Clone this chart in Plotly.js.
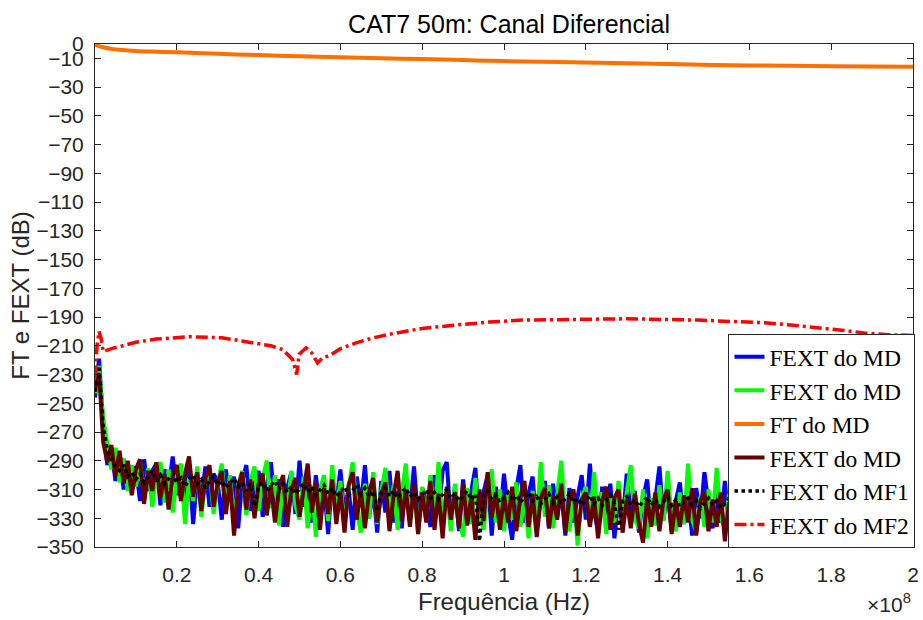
<!DOCTYPE html>
<html>
<head>
<meta charset="utf-8">
<script src="https://cdn.plot.ly/plotly-3.0.1.min.js"></script>
<style>html,body{margin:0;padding:0;background:#fff;}#chart{width:923px;height:620px;}</style>
</head>
<body>
<div id="chart"></div>
<script>
// Frequency grid of the noisy FEXT curves, in MHz
const freqMHz = [0,1,2,3,4,5,6,7,8,9,10,11,12,13,14,15,16,17,18,19,20,21,22,23,24,25,26,27,28,29,30,31,32,33,34,35,36,37,38,39,40,41,42,43,44,45,46,47,48,49,50,51,52,53,54,55,56,57,58,59,60,61,62,63,64,65,66,67,68,69,70,71,72,73,74,75,76,77,78,79,80,81,82,83,84,85,86,87,88,89,90,91,92,93,94,95,96,97,98,99,100,101,102,103,104,105,106,107,108,109,110,111,112,113,114,115,116,117,118,119,120,121,122,123,124,125,126,127,128,129,130,131,132,133,134,135,136,137,138,139,140,141,142,143,144,145,146,147,148,149,150,151,152,153,154,155,156];

const fextMD_blue = [-246,-219,-266,-293,-282,-304,-285,-310,-291,-306,
-294,-318,-289,-311,-297,-292,-321,-296,-309,-287,
-314,-298,-327,-293,-334,-300,-316,-294,-322,-299,
-305,-331,-296,-318,-301,-337,-304,-293,-325,-306,
-297,-329,-308,-291,-320,-303,-336,-309,-298,-327,
-290,-322,-305,-333,-300,-324,-308,-341,-302,-319,
-296,-328,-309,-338,-301,-321,-293,-330,-310,-340,
-304,-326,-297,-333,-311,-337,-302,-324,-294,-331,
-309,-318,-336,-300,-327,-297,-291,-332,-308,-339,
-303,-328,-311,-295,-335,-312,-300,-342,-308,-330,
-299,-327,-345,-310,-293,-333,-313,-301,-338,-315,
-304,-337,-306,-329,-311,-342,-309,-333,-315,-300,
-331,-292,-326,-338,-308,-330,-306,-344,-314,-333,
-299,-328,-311,-340,-316,-303,-335,-317,-294,-331,
-310,-339,-318,-305,-334,-315,-342,-309,-330,-298,
-320,-337,-312,-333,-304,-336,-318];

const fextMD_green = [-243,-224,-260,-277,-296,-281,-305,-288,-311,-293,
-308,-290,-316,-295,-322,-298,-291,-319,-296,-326,
-301,-292,-334,-302,-318,-294,-329,-303,-296,-327,
-306,-292,-324,-300,-333,-307,-297,-328,-304,-294,
-325,-302,-290,-323,-300,-335,-305,-327,-297,-321,
-331,-301,-337,-307,-343,-310,-300,-332,-293,-326,
-304,-336,-309,-291,-325,-340,-306,-330,-298,-334,
-311,-295,-331,-307,-338,-312,-292,-333,-310,-341,
-308,-332,-300,-329,-291,-336,-311,-339,-306,-330,
-343,-309,-334,-302,-328,-338,-312,-296,-333,-310,
-339,-313,-331,-305,-336,-315,-344,-311,-333,-291,
-329,-307,-337,-314,-290,-331,-339,-312,-349,-316,
-308,-336,-298,-330,-312,-341,-315,-333,-304,-332,
-313,-293,-331,-337,-310,-344,-316,-335,-307,-332,
-297,-330,-339,-312,-334,-292,-331,-340,-315,-336,
-310,-333,-295,-329,-338,-313,-334];

const fextMD_dark = [-240,-229,-277,-291,-279,-301,-283,-306,-290,-314,
-296,-289,-320,-297,-311,-291,-316,-299,-324,-300,
-293,-318,-299,-287,-315,-298,-325,-302,-293,-322,
-305,-297,-327,-304,-342,-308,-298,-324,-303,-330,
-306,-299,-328,-307,-333,-309,-300,-336,-310,-302,
-329,-308,-292,-326,-305,-338,-309,-327,-303,-334,
-311,-340,-307,-298,-331,-310,-337,-312,-302,-333,
-313,-305,-339,-314,-297,-332,-310,-336,-306,-341,
-312,-333,-304,-338,-313,-344,-308,-331,-312,-337,
-306,-335,-315,-345,-310,-332,-298,-329,-312,-338,
-314,-333,-308,-339,-315,-304,-336,-313,-343,-316,
-309,-337,-315,-331,-306,-340,-316,-310,-342,-317,
-312,-336,-315,-344,-318,-308,-338,-316,-310,-340,
-317,-337,-313,-334,-347,-316,-336,-312,-339,-317,
-310,-341,-318,-336,-314,-333,-309,-342,-318,-312,
-339,-317,-336,-312,-346,-319,-338];

const fextMF1 = [-242,-224,-266,-282,-289,-294,-297,-293,-301,-298,
-303,-299,-305,-301,-297,-304,-300,-306,-302,-299,
-305,-302,-308,-303,-300,-306,-303,-309,-304,-301,
-307,-304,-309,-305,-302,-308,-305,-311,-306,-322,
-308,-305,-311,-307,-304,-310,-306,-312,-308,-313,
-309,-306,-312,-308,-314,-310,-307,-313,-309,-315,
-311,-308,-314,-310,-307,-313,-309,-315,-311,-325,
-312,-309,-315,-311,-316,-312,-309,-315,-312,-317,
-313,-310,-316,-312,-317,-313,-310,-316,-313,-318,
-314,-311,-317,-313,-346,-314,-311,-317,-314,-319,
-315,-312,-318,-314,-319,-315,-312,-318,-315,-320,
-316,-313,-319,-315,-320,-316,-313,-319,-316,-321,
-317,-314,-320,-316,-321,-317,-314,-320,-338,-318,
-315,-321,-317,-322,-318,-315,-321,-317,-322,-318,
-315,-321,-317,-322,-318,-316,-321,-318,-323,-319,
-316,-321,-318,-323,-319,-316,-321];

// FT do MD (x in units of 1e8 Hz)
const ftX = [0,0.01,0.02,0.04,0.065,0.1,0.15,0.2,0.3,0.4,0.5,0.6,0.7,0.8,0.9,1.0,1.2,1.4,1.6,1.8,2.0];
const ftY = [-0.5,-1.5,-2.3,-3.4,-4.2,-4.9,-5.4,-5.8,-6.8,-7.7,-8.5,-9.3,-9.9,-10.5,-11.2,-11.9,-12.8,-14,-14.9,-15.4,-15.8];

// FEXT do MF2 (x in units of 1e8 Hz)
const mf2X = [0,0.005,0.01,0.015,0.02,0.04,0.068,0.1,0.15,0.23,0.31,0.39,0.43,0.459,0.483,0.493,0.499,0.516,0.53,0.544,0.558,0.572,0.6,0.638,0.68,0.719,0.8,0.881,0.963,1.044,1.15,1.207,1.3,1.475,1.55,1.637,1.7,1.76,1.82,1.88,1.94,2.0];
const mf2Y = [-232,-210,-200,-205,-214,-212,-210,-207.5,-205.3,-203.7,-204.4,-208,-210,-212.6,-219.5,-230,-216,-211.4,-215,-221.9,-218,-217.2,-212,-208,-204.5,-202,-197.9,-195.6,-193.5,-192.1,-191.6,-191.2,-191.2,-192.1,-193,-194,-195.5,-197,-199,-201,-202.3,-202.8];

const yTickVals = [0,-10,-30,-50,-70,-90,-110,-130,-150,-170,-190,-210,-230,-250,-270,-290,-310,-330,-350];
const xTickVals = [0.2,0.4,0.6,0.8,1,1.2,1.4,1.6,1.8,2];
const xTickText = ['0.2','0.4','0.6','0.8','1','1.2','1.4','1.6','1.8','2'];

const names = ['FEXT do MD','FEXT do MD','FT do MD','FEXT do MD','FEXT do MF1','FEXT do MF2'];

const fx = freqMHz.map(v => v / 100);

const traces = [
  {x: fx, y: fextMD_blue, name: names[0], line: {color: '#0000FF', width: 4}},
  {x: fx, y: fextMD_green, name: names[1], line: {color: '#00FF00', width: 4}},
  {x: ftX, y: ftY, name: names[2], line: {color: '#FF7000', width: 4, shape: 'spline'}},
  {x: fx, y: fextMD_dark, name: names[3], line: {color: '#640000', width: 4}},
  {x: fx, y: fextMF1, name: names[4], line: {color: '#000000', width: 3.5, dash: 'dot'}},
  {x: mf2X, y: mf2Y, name: names[5], line: {color: '#FF0000', width: 3.5, dash: '12px,4px,3px,4px'}}
].map((t, i) => Object.assign({type: 'scatter', mode: 'lines', legendgroup: 'g' + i}, t));

const tickFont = {family: 'Liberation Sans, Arial, sans-serif', size: 21, color: '#262626'};
const labelFont = {family: 'Liberation Sans, Arial, sans-serif', size: 24, color: '#262626'};

const layout = {
  width: 923, height: 620,
  margin: {l: 95, r: 8, t: 44, b: 73},
  paper_bgcolor: '#fff', plot_bgcolor: '#fff',
  showlegend: true,
  title: {text: 'CAT7 50m: Canal Diferencial', font: {family: 'Liberation Sans, Arial, sans-serif', size: 25, color: '#000'}, x: 0.5515, xanchor: 'center', y: 0.961, yanchor: 'middle'},
  xaxis: {
    range: [0, 2], tickvals: xTickVals, ticktext: xTickText,
    ticks: 'inside', ticklen: 6, tickcolor: '#262626',
    showline: true, linecolor: '#262626', linewidth: 1, mirror: 'allticks',
    showgrid: false, zeroline: false, tickfont: tickFont, ticklabelstandoff: 9,
    title: {text: 'Frequência (Hz)', font: labelFont, standoff: 7}
  },
  yaxis: {
    range: [-350, 0], tickvals: yTickVals,
    ticks: 'inside', ticklen: 6, tickcolor: '#262626',
    showline: true, linecolor: '#262626', linewidth: 1, mirror: 'allticks',
    showgrid: false, zeroline: false, tickfont: tickFont, ticklabelstandoff: 6,
    title: {text: 'FT e FEXT (dB)', font: labelFont, standoff: 0}
  },
  legend: {
    x: 1.003, xanchor: 'right', y: -0.002, yanchor: 'bottom',
    bgcolor: '#fff', bordercolor: '#262626', borderwidth: 1,
    font: {family: 'Liberation Serif, Times New Roman, serif', size: 23.5, color: '#000'},
    tracegroupgap: 0, traceorder: 'normal'
  },
  annotations: [{
    xref: 'paper', yref: 'paper', x: 1.0, y: -0.111, xanchor: 'right', yanchor: 'middle',
    text: '×10<sup>8</sup>', showarrow: false, font: tickFont
  }]
};

Plotly.newPlot('chart', traces, layout, {displayModeBar: false, staticPlot: true});
</script>
</body>
</html>
